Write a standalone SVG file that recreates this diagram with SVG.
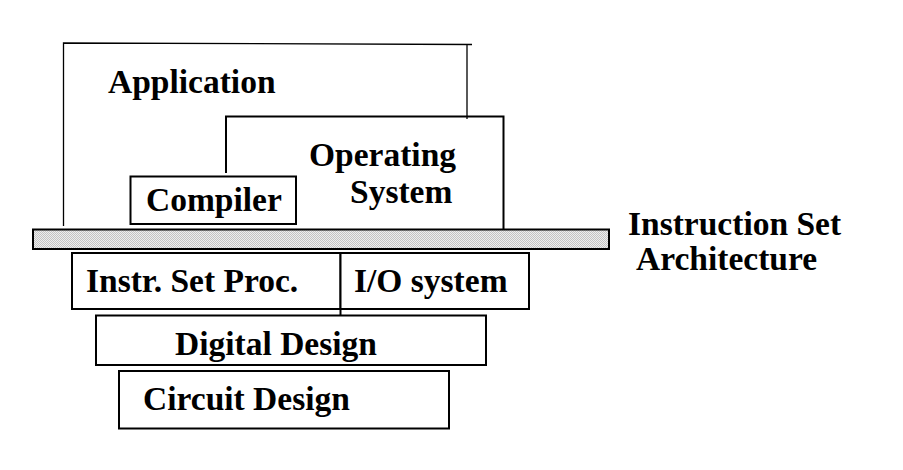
<svg xmlns="http://www.w3.org/2000/svg" width="903" height="470" viewBox="0 0 903 470">
<style>
  .t { font-family: "Liberation Serif", "Times New Roman", serif; font-weight: bold; font-size: 33.5px; fill: #000; }
  .box { fill: #fff; stroke: #000; stroke-width: 2; }
  .thin { fill: none; stroke: #000; stroke-width: 1.3; }
  .open { fill: none; stroke: #000; stroke-width: 2; }
</style>
<defs>
  <pattern id="dither" width="2" height="2" patternUnits="userSpaceOnUse">
    <rect width="2" height="2" fill="#eeeeee"/>
    <rect width="1" height="1" fill="#c4c4c4"/>
    <rect x="1" y="1" width="1" height="1" fill="#c4c4c4"/>
  </pattern>
</defs>
<rect width="903" height="470" fill="#fff"/>
<g id="application">
  <path class="thin" d="M63.5,226 V43 L472,44.5 M467,44.5 V119"/>
  <text class="t" x="108" y="93">Application</text>
</g>
<g id="operating-system">
  <path class="open" d="M226,173 V116.5 H503.5 V229"/>
  <text class="t" x="309" y="166">Operating</text>
  <text class="t" x="350" y="203">System</text>
</g>
<g id="compiler">
  <rect class="box" x="130.5" y="176.5" width="165.5" height="47.5"/>
  <text class="t" x="146" y="211">Compiler</text>
</g>
<g id="isa-bar">
  <rect x="33" y="229.5" width="576" height="19.5" fill="url(#dither)" stroke="#000" stroke-width="2"/>
</g>
<g id="isa-label">
  <text class="t" x="628" y="235">Instruction Set</text>
  <text class="t" x="636" y="270">Architecture</text>
</g>
<g id="instr-set-proc">
  <rect class="box" x="72" y="253" width="268.5" height="56"/>
  <text class="t" x="86" y="292">Instr. Set Proc.</text>
</g>
<g id="io-system">
  <rect class="box" x="340.5" y="253" width="188.5" height="56"/>
  <line x1="340.5" y1="309" x2="340.5" y2="315" stroke="#000" stroke-width="2"/>
  <text class="t" x="354" y="292">I/O system</text>
</g>
<g id="digital-design">
  <rect class="box" x="96" y="315.5" width="390" height="49.5"/>
  <text class="t" x="175" y="355">Digital Design</text>
</g>
<g id="circuit-design">
  <rect class="box" x="119" y="371" width="330" height="57.5"/>
  <text class="t" x="143" y="410">Circuit Design</text>
</g>
</svg>
